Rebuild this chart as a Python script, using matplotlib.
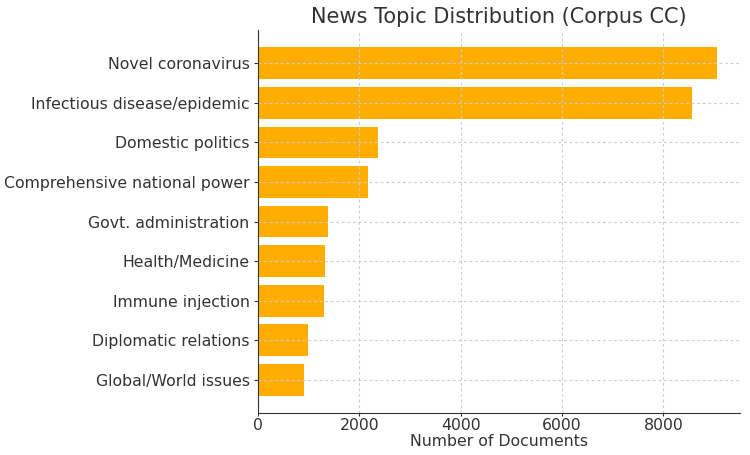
import matplotlib
matplotlib.use("Agg")
import matplotlib.pyplot as plt

# topic counts
topics = [
    "Novel coronavirus",
    "Infectious disease/epidemic",
    "Domestic politics",
    "Comprehensive national power",
    "Govt. administration",
    "Health/Medicine",
    "Immune injection",
    "Diplomatic relations",
    "Global/World issues",
]
doc_counts = [9065, 8570, 2365, 2170, 1375, 1318, 1310, 995, 915]
x_ticks = [0, 2000, 4000, 6000, 8000]

fig = plt.figure(figsize=(7.5, 4.55), dpi=100)
ax = fig.add_axes([0.344, 0.092, 0.643, 0.842])

ax.barh(topics, doc_counts, height=0.8, color="#ffae00")
ax.invert_yaxis()

ax.set_xticks(x_ticks)
ax.set_xlabel("Number of Documents", fontsize=11.3, color="#333333", labelpad=1)
ax.set_title("News Topic Distribution (Corpus CC)", fontsize=15, color="#333333", pad=5)
ax.tick_params(axis="both", labelsize=11.3, colors="#333333")
ax.tick_params(axis="x", length=2, pad=1.5)
ax.tick_params(axis="y", length=3, pad=3)
ax.grid(True, linestyle=(0, (2.5, 2.5)), color="#cccccc", linewidth=0.8)

for side in ("top", "right"):
    ax.spines[side].set_visible(False)
for side in ("left", "bottom"):
    ax.spines[side].set_color("#333333")

fig.savefig("out.png", dpi=100)
plt.close(fig)
